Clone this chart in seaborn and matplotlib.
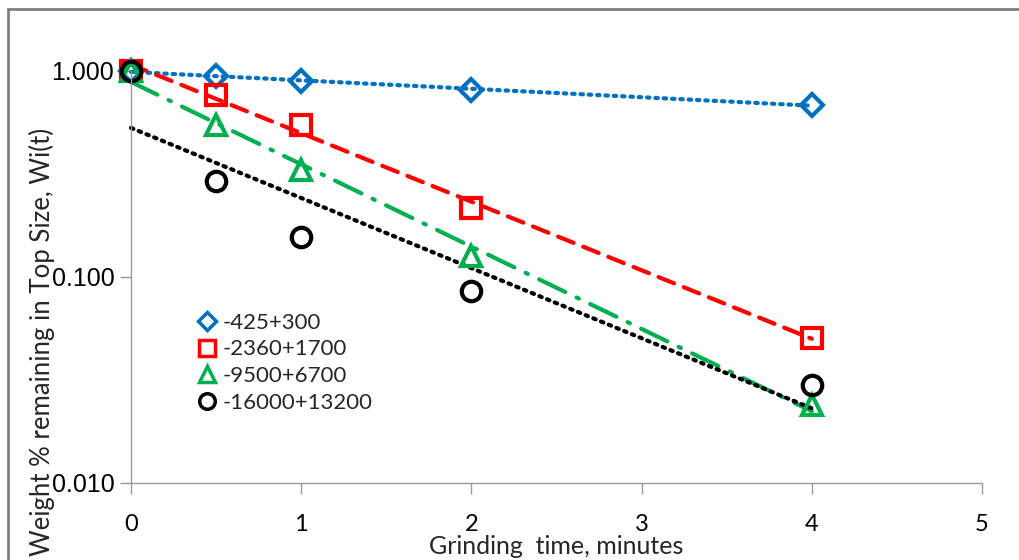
import numpy as np
import pandas as pd
import matplotlib
matplotlib.use("Agg")
import matplotlib.pyplot as plt
from matplotlib.lines import Line2D
import seaborn as sns

# ---- data ----
times = [0, 0.5, 1, 2, 4]
labels = ["-425+300", "-2360+1700", "-9500+6700", "-16000+13200"]
w_425 = [1.0, 0.946, 0.894, 0.81, 0.684]
w_2360 = [1.0, 0.765, 0.547, 0.216, 0.0505]
w_9500 = [1.0, 0.547, 0.33, 0.126, 0.024]
w_16000 = [1.0, 0.292, 0.156, 0.0853, 0.030]
x_ticks = [0, 1, 2, 3, 4, 5]
y_ticks = [0.01, 0.1, 1.0]
y_tick_labels = ["0.010", "0.100", "1.000"]

series = [w_425, w_2360, w_9500, w_16000]
colors = ["#0070C0", "#FF0000", "#00B050", "#000000"]
markers = ["D", "s", "^", "o"]
msizes = [11, 14, 14, 14]
line_styles = [(0, (0.6, 1.4)), (0, (4, 2.5)), (0, (7, 3, 0.6, 3)), (0, (0.6, 1.4))]

sns.set_style("white")
plt.rcParams["font.family"] = ["Lato", "DejaVu Sans"]

fig = plt.figure(figsize=(10.19, 5.6), dpi=100)
ax = fig.add_axes([131/1019, 1-483/560, (982-131)/1019, (483-71)/560])

rows = []
for lab, vals in zip(labels, series):
    for t, v in zip(times, vals):
        rows.append({"t": t, "w": v, "size": lab})
df = pd.DataFrame(rows)

# exponential trend lines (fit on log scale)
fit_rows = []
tt = np.linspace(0, 4, 50)
for lab, vals in zip(labels, series):
    b, a = np.polyfit(times, np.log10(vals), 1)
    for t in tt:
        fit_rows.append({"t": t, "w": 10 ** (a + b * t), "size": lab})
fit_df = pd.DataFrame(fit_rows)

for lab, c, ls in zip(labels, colors, line_styles):
    sub = fit_df[fit_df["size"] == lab]
    sns.lineplot(data=sub, x="t", y="w", ax=ax, color=c, linewidth=3.0,
                 linestyle=ls, legend=False, clip_on=False)
    ax.lines[-1].set_dash_capstyle("round")

for lab, c, m, ms in zip(labels, colors, markers, msizes):
    sub = df[df["size"] == lab]
    sns.lineplot(data=sub, x="t", y="w", ax=ax, color=c, linestyle="none",
                 marker=m, markersize=ms, markerfacecolor="none",
                 markeredgecolor=c, markeredgewidth=3, legend=False, clip_on=False)

ax.set_yscale("log")
ax.set_ylim(0.01, 1.0)
ax.set_xlim(0, 5)
ax.set_xticks(x_ticks)
ax.set_xticklabels([str(v) for v in x_ticks], fontsize=17)
ax.set_yticks(y_ticks)
ax.set_yticklabels(y_tick_labels, fontsize=18, family=["Liberation Sans"])
ax.yaxis.set_minor_locator(matplotlib.ticker.NullLocator())
ax.tick_params(axis="both", direction="out", length=8, width=1, color="#999999",
               colors="#000000", pad=6, left=True, bottom=True)
ax.tick_params(axis="x", pad=14)
ax.tick_params(axis="y", pad=4)
for s in ["top", "right"]:
    ax.spines[s].set_visible(False)
for s in ["left", "bottom"]:
    ax.spines[s].set_color("#999999")
    ax.spines[s].set_linewidth(1)

ax.set_xlabel("Grinding  time, minutes", fontsize=18)
ax.xaxis.set_label_coords(0.5, -0.125)
ax.set_ylabel("Weight % remaining in Top Size, Wi(t)", fontsize=18.5)
ax.yaxis.set_label_coords(-0.089, 0.342)

handles = [Line2D([], [], color=c, marker=m, linestyle="none", markersize=ms * 0.8,
                  markerfacecolor="none", markeredgewidth=2.5)
           for c, m, ms in zip(colors, markers, msizes)]
ax.legend(handles, labels, loc="upper left", bbox_to_anchor=(0.066, 0.44),
          frameon=False, fontsize=16, handlelength=0.8, handletextpad=0.3,
          labelspacing=0.3, borderpad=0)

# outer chart frame (top and left edges visible)
fig.add_artist(Line2D([8/1019, 1], [1-9/560, 1-9/560], color="#808080", linewidth=2,
                      transform=fig.transFigure))
fig.add_artist(Line2D([8/1019, 8/1019], [0, 1-9/560], color="#808080", linewidth=2,
                      transform=fig.transFigure))

fig.savefig("out.png", dpi=100)
